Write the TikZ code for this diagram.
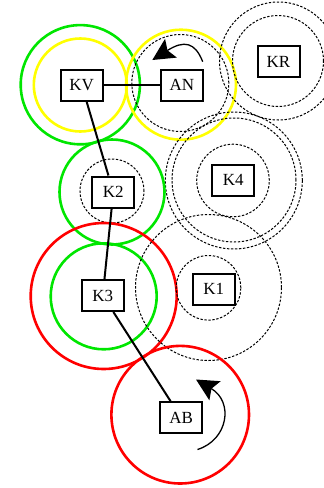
\documentclass[tikz,border=0pt]{standalone}
\usepackage{fontspec}
\setmainfont{Liberation Serif}
\usetikzlibrary{arrows.meta}
\definecolor{cgreen}{RGB}{0,230,0}
\definecolor{cyellow}{RGB}{255,255,0}
\definecolor{cred}{RGB}{255,0,0}
\tikzset{
  box/.style={draw=black, line width=2pt, fill=white, minimum width=42pt, minimum height=31pt, inner sep=2pt, font=\fontsize{17}{19}\selectfont},
  ring/.style={line width=2.6pt},
  dring/.style={line width=1pt, dash pattern=on 2.4pt off 1.6pt},
  link/.style={line width=2pt},
  turn/.style={line width=1.3pt, -{Stealth[length=22pt,width=22pt,inset=4pt]}}
}
\begin{document}
\begin{tikzpicture}[x=1pt,y=-1pt]
\useasboundingbox (0,0) rectangle (324,488);
% circles
\draw[ring, cgreen] (80.3,84.7) circle[radius=59.6pt];
\draw[ring, cyellow] (80.3,85) circle[radius=46.5pt];
\draw[ring, cyellow] (181,84.7) circle[radius=55pt];
\draw[dring] (180.3,83) circle[radius=48.5pt];
\draw[dring] (278.5,61) circle[radius=59pt];
\draw[dring] (278,61) circle[radius=45.5pt];
\draw[dring] (233,180.5) circle[radius=36.3pt];
\draw[dring] (233.8,180.5) circle[radius=68.5pt];
\draw[dring] (234,180) circle[radius=62pt];
\draw[ring, cgreen] (112,192) circle[radius=52.5pt];
\draw[dring] (112,191) circle[radius=32pt];
\draw[ring, cred] (103.7,296) circle[radius=73pt];
\draw[ring, cgreen] (103.7,296.3) circle[radius=53pt];
\draw[dring] (208.5,287.8) circle[radius=32.3pt];
\draw[dring] (208.5,287.5) circle[radius=73pt];
\draw[ring, cred] (180.2,414.7) circle[radius=68.8pt];
% nodes
\node[box] (KV) at (81.7,85) {KV};
\node[box] (AN) at (182,85) {AN};
\node[box] (KR) at (278.5,61.5) {KR};
\node[box] (K4) at (233.3,180) {K4};
\node[box] (K2) at (113.3,192) {K2};
\node[box] (K3) at (102.8,295.5) {K3};
\node[box] (K1) at (213.7,289) {K1};
\node[box] (AB) at (181.2,417.8) {AB};
% links
\draw[link] (KV) -- (AN);
\draw[link] (KV) -- (K2);
\draw[link] (K2) -- (K3);
\draw[link] (K3) -- (AB);
% rotation arrows
\coordinate (ans) at (202.7,61.7);
\coordinate (ant) at (152.3,60);
\draw[turn] (ans) .. controls (195,42) and (184,40) .. (ant);
\coordinate (abs) at (197.5,449.5);
\coordinate (abt) at (196,379.5);
\draw[turn] (abs) .. controls (228,440) and (234,402) .. (abt);
\end{tikzpicture}
\end{document}
